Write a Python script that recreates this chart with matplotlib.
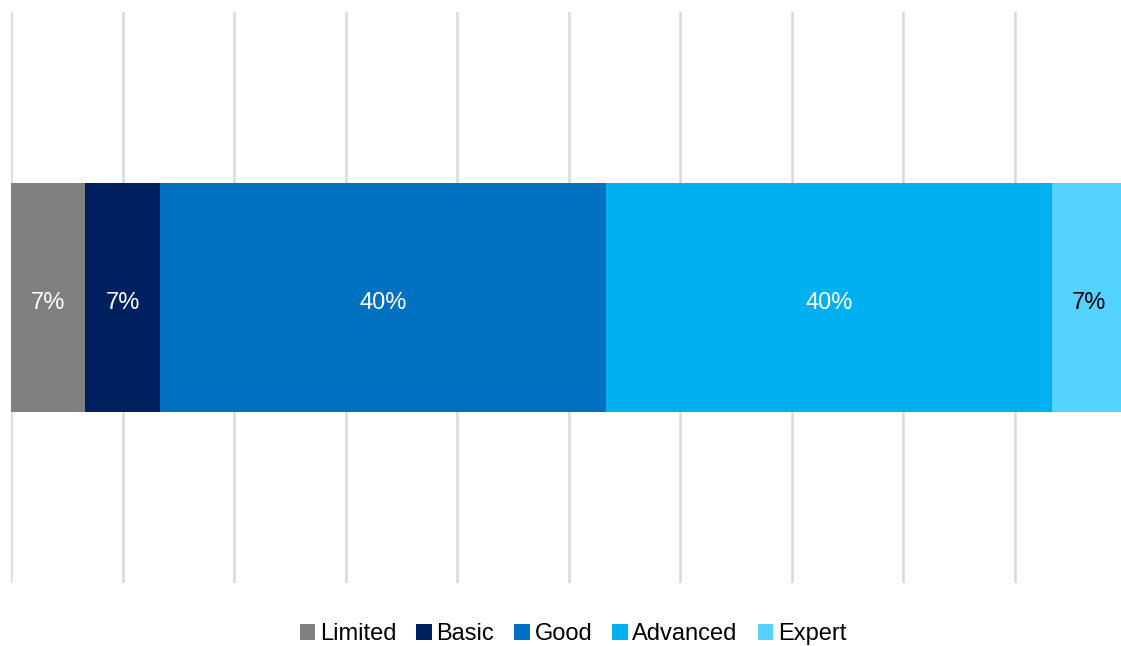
import matplotlib.pyplot as plt

plt.rcParams['font.family'] = ['Liberation Sans', 'DejaVu Sans']

levels = ['Limited', 'Basic', 'Good', 'Advanced', 'Expert']
shares = [6.67, 6.67, 40.0, 40.0, 6.67]
colors = ['#808080', '#002060', '#0070C0', '#00B0F0', '#55D3FF']
text_colors = ['white', 'white', 'white', 'white', 'black']

fig = plt.figure(figsize=(11.21, 6.46), dpi=100)
W, H = 1121, 646
# axis runs 0..100 but the right end falls just past the figure edge
ax = fig.add_axes([11 / W, (H - 583) / H, 1115 / W, 571 / H])

left = 0
for name, val, col, tc in zip(levels, shares, colors, text_colors):
    ax.barh(0, val, left=left, height=0.4, color=col, label=name, zorder=3)
    ax.text(left + val / 2, -0.005, f'{val:.0f}%', ha='center', va='center_baseline',
            color=tc, fontsize=17, zorder=4)
    left += val

ax.set_xlim(0, 100)
ax.set_ylim(-0.5, 0.5)
ax.set_xticks(range(0, 101, 10))
ax.grid(axis='x', color='#d9d9d9', linewidth=1.8, zorder=0)
ax.tick_params(left=False, bottom=False, labelleft=False, labelbottom=False)
for s in ax.spines.values():
    s.set_visible(False)

fig.legend(loc='center', bbox_to_anchor=(573 / W, 1 - 634 / H), ncol=5,
           frameon=False, fontsize=17, handlelength=0.65, handleheight=0.65,
           handletextpad=0.2, columnspacing=0.85)

fig.savefig('out.png', dpi=100)
